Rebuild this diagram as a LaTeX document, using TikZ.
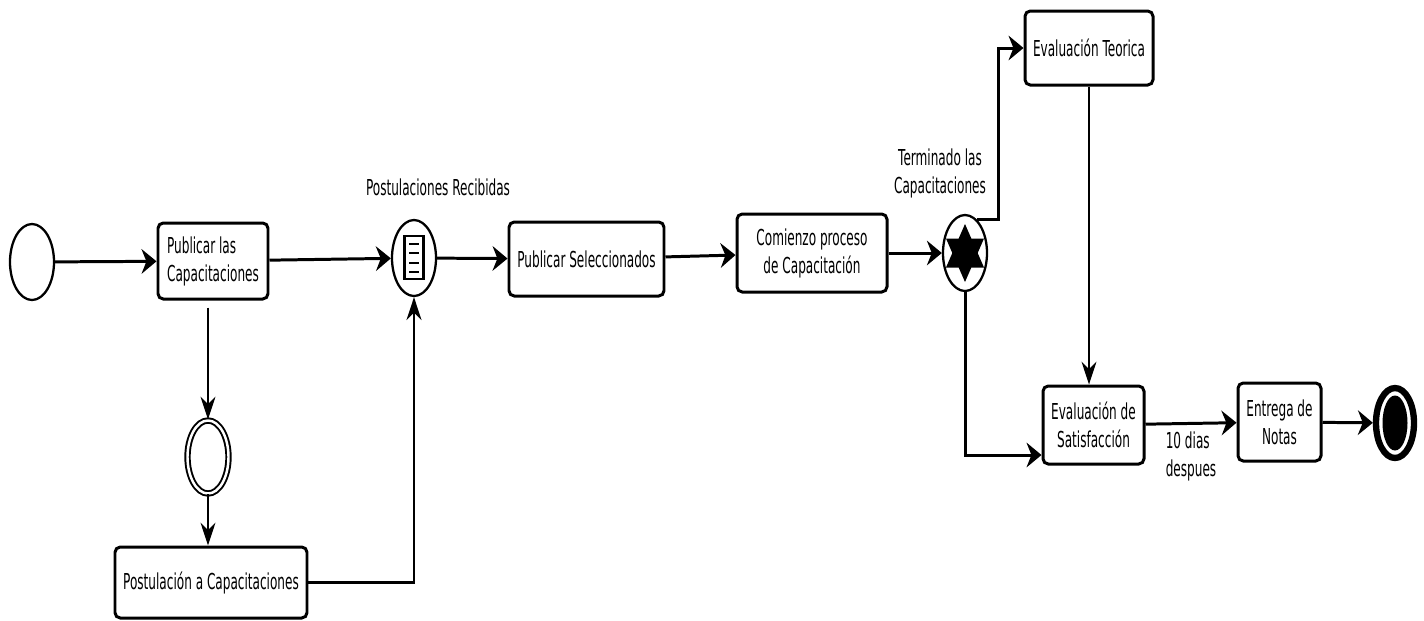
\documentclass[tikz,border=0pt]{standalone}
\usepackage{fontspec}
\newfontfamily\diagfont[FakeStretch=0.55]{DejaVu Sans}
\usetikzlibrary{arrows.meta, positioning, shapes.geometric, calc}

\begin{document}
\begin{tikzpicture}[
  task/.style={draw, rounded corners=3pt, line width=1.7pt, align=center, inner sep=2pt,
    font={\diagfont\fontsize{12.5pt}{16pt}\selectfont}},
  lbl/.style={align=center, inner sep=1pt, font={\diagfont\fontsize{12.5pt}{16pt}\selectfont}},
  evt/.style={draw, ellipse, minimum width=0.88cm, minimum height=1.52cm, inner sep=0pt, line width=1.3pt},
  hflow/.style={line width=1.7pt, -{Stealth[length=8.5pt, width=14pt]}},
  vflow/.style={line width=1.2pt, -{Stealth[length=13pt, width=8.5pt]}}]
  \useasboundingbox (0,0) rectangle (28.48,-12.4);

  % Start and publication
  \node[evt] (inicio) at (0.64,-5.24) {};
  \node[task, align=left, minimum width=2.2cm, minimum height=1.52cm] (publicar) at (4.26,-5.22) {Publicar las\\Capacitaciones};
  \draw[hflow] (inicio) -- (publicar);

  % Applications branch
  \node[evt, double, double distance=1.4pt, line width=1.1pt, minimum width=0.82cm, minimum height=1.46cm] (espera) at (4.16,-9.14) {};
  \node[task, minimum width=3.84cm, minimum height=1.42cm] (postulacion) at (4.22,-11.65) {Postulación a Capacitaciones};
  \draw[vflow, shorten <=4pt] (publicar.south -| espera) -- (espera.north);
  \draw[vflow] (espera) -- (espera |- postulacion.north);

  % Received applications
  \node[evt] (recibidas) at (8.28,-5.16) {};
  \draw[line width=1.3pt, shift={(recibidas.center)}] (-0.19,-0.42) rectangle (0.19,0.44);
  \foreach \yy in {0.28,0.1,-0.1,-0.28}
    \draw[line width=0.8pt, shift={(recibidas.center)}] (-0.1,\yy) -- (0.1,\yy);
  \node[lbl] (recibidaslbl) at (8.76,-3.74) {Postulaciones Recibidas};
  \draw[hflow] (publicar) -- (recibidas);
  \draw[vflow] (postulacion.east) -| (recibidas.south);

  % Selection and training
  \node[task, minimum width=3.1cm, minimum height=1.48cm] (seleccion) at (11.73,-5.18) {Publicar Seleccionados};
  \node[task, minimum width=3.0cm, minimum height=1.56cm] (comienzo) at (16.24,-5.06) {Comienzo proceso\\de Capacitación};
  \draw[hflow] (recibidas) -- (seleccion);
  \draw[hflow] (seleccion) -- (comienzo);

  % End of training event
  \node[evt] (termino) at (19.3,-5.06) {};
  \fill[shift={(termino.center)}] (0,0.58) -- (-0.38,-0.29) -- (0.38,-0.29) -- cycle
    (0,-0.58) -- (0.38,0.29) -- (-0.38,0.29) -- cycle;
  \node[lbl] (terminolbl) at (18.8,-3.46) {Terminado las\\Capacitaciones};
  \draw[hflow] (comienzo) -- (termino);

  % Evaluations
  \node[task, minimum width=2.56cm, minimum height=1.48cm] (teorica) at (21.78,-0.96) {Evaluación Teorica};
  \node[task, minimum width=2.02cm, minimum height=1.56cm] (satisfaccion) at (21.87,-8.5) {Evaluación de\\Satisfacción};
  \coordinate (giro) at (19.96,0);
  \draw[hflow] (termino.70) -- (termino.70 -| giro) |- (teorica.west);
  \draw[hflow] (termino.south) |- ([yshift=-0.6cm]satisfaccion.west);
  \draw[vflow] (teorica.south) -- (teorica.south |- satisfaccion.north);

  % Grades and end
  \node[task, minimum width=1.66cm, minimum height=1.56cm] (entrega) at (25.59,-8.44) {Entrega de\\Notas};
  \draw[hflow] (satisfaccion) -- node[lbl, align=left, below=3pt] (plazo) {10 dias\\despues} (entrega);
  \node[evt, line width=3.6pt, minimum width=0.76cm, minimum height=1.40cm] (fin) at (27.9,-8.46) {};
  \fill (fin.center) ellipse [x radius=0.25, y radius=0.55];
  \draw[hflow] (entrega) -- (fin);
\end{tikzpicture}
\end{document}
